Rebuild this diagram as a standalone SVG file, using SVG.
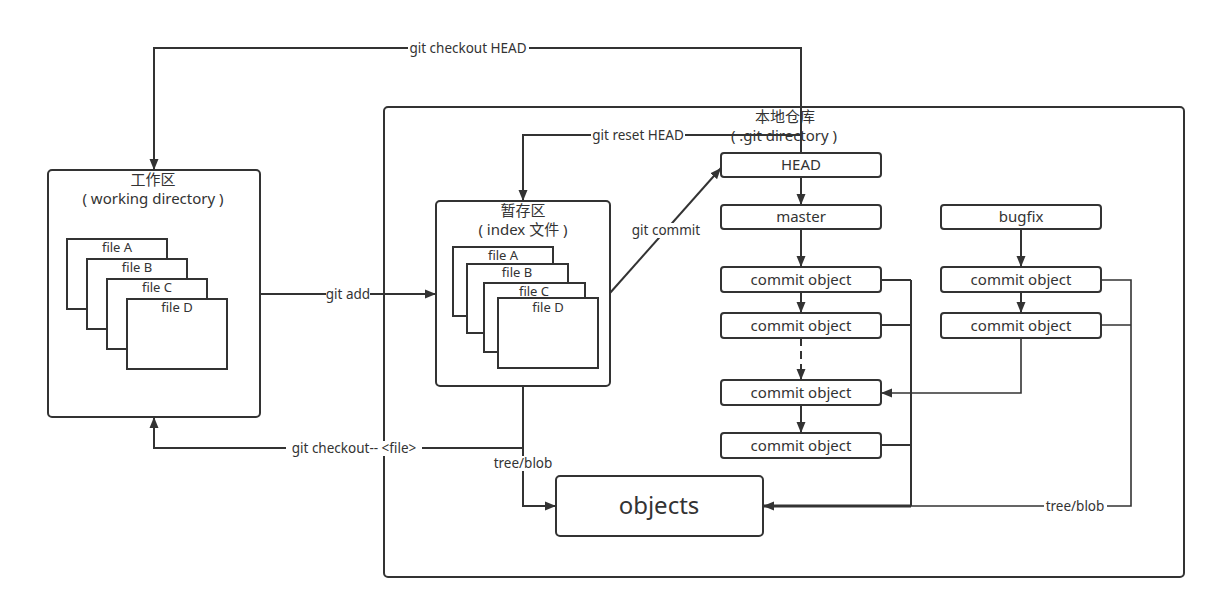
<svg xmlns="http://www.w3.org/2000/svg" width="1216" height="609" viewBox="0 0 1216 609">
<defs>
<style>
.box{fill:#fff;stroke:#333;stroke-width:2}
.file{fill:#fff;stroke:#333;stroke-width:2}
.t{font-family:"Noto Sans","Noto Sans CJK SC",sans-serif;font-size:15px;fill:#333;text-anchor:middle}
.ft{font-family:"Noto Sans","Noto Sans CJK SC",sans-serif;font-size:13px;fill:#333;text-anchor:middle}
.lbl{font-family:"Noto Sans","Noto Sans CJK SC",sans-serif;font-size:13.5px;fill:#333;text-anchor:middle}
.bg{fill:#fff}
.c{fill:none;stroke:#333;stroke-width:2}
.thin{fill:none;stroke:#333;stroke-width:1.6}
</style>
<marker id="ah" viewBox="0 0 11 10" markerUnits="userSpaceOnUse" markerWidth="11" markerHeight="10" refX="11" refY="5" orient="auto">
<path d="M0,0.5 L11,5 L0,9.5 Z" fill="#333"/>
</marker>
</defs>
<rect width="1216" height="609" fill="#fff"/>

<g id="repo">
<rect class="box" x="384" y="107" width="800" height="470" rx="4"/>
<text class="t" x="785" y="122">本地仓库</text>
<text class="t" x="784" y="141">( .git directory )</text>
</g>

<g id="working-dir">
<rect class="box" x="48" y="170" width="212" height="247" rx="4"/>
<text class="t" x="153" y="185">工作区</text>
<text class="t" x="153" y="204">( working directory )</text>
<rect class="file" x="67" y="239" width="100" height="70"/>
<text class="ft" x="117" y="252">file A</text>
<rect class="file" x="87" y="259" width="100" height="70"/>
<text class="ft" x="137" y="272">file B</text>
<rect class="file" x="107" y="279" width="100" height="70"/>
<text class="ft" x="157" y="292">file C</text>
<rect class="file" x="127" y="299" width="100" height="70"/>
<text class="ft" x="177" y="312">file D</text>
</g>

<g id="index">
<rect class="box" x="436" y="201" width="174" height="185" rx="4"/>
<text class="t" x="523" y="216">暂存区</text>
<text class="t" x="523" y="235">( index 文件 )</text>
<rect class="file" x="453" y="247" width="100" height="69"/>
<text class="ft" x="503" y="260">file A</text>
<rect class="file" x="467" y="264" width="101" height="69"/>
<text class="ft" x="517" y="277">file B</text>
<rect class="file" x="484" y="283" width="101" height="69"/>
<text class="ft" x="534" y="296">file C</text>
<rect class="file" x="498" y="298" width="100" height="70"/>
<text class="ft" x="548" y="312">file D</text>
</g>

<g id="head">
<rect class="box" x="721" y="153" width="160" height="24" rx="3"/>
<text class="t" x="801" y="170">HEAD</text>
</g>
<g id="master">
<rect class="box" x="721" y="205" width="160" height="24" rx="3"/>
<text class="t" x="801" y="222">master</text>
</g>
<g id="bugfix">
<rect class="box" x="941" y="205" width="160" height="24" rx="3"/>
<text class="t" x="1021" y="222">bugfix</text>
</g>
<g id="commit1">
<rect class="box" x="721" y="267" width="160" height="25" rx="3"/>
<text class="t" x="801" y="285">commit object</text>
</g>
<g id="commit2">
<rect class="box" x="721" y="313" width="160" height="25" rx="3"/>
<text class="t" x="801" y="331">commit object</text>
</g>
<g id="commit3">
<rect class="box" x="721" y="380" width="160" height="25" rx="3"/>
<text class="t" x="801" y="398">commit object</text>
</g>
<g id="commit4">
<rect class="box" x="721" y="433" width="160" height="25" rx="3"/>
<text class="t" x="801" y="451">commit object</text>
</g>
<g id="bugfix-commit1">
<rect class="box" x="941" y="267" width="160" height="25" rx="3"/>
<text class="t" x="1021" y="285">commit object</text>
</g>
<g id="bugfix-commit2">
<rect class="box" x="941" y="313" width="160" height="25" rx="3"/>
<text class="t" x="1021" y="331">commit object</text>
</g>
<g id="objects">
<rect class="box" x="556" y="476" width="207" height="60" rx="4"/>
<text class="t" x="659" y="514" style="font-size:24px">objects</text>
</g>

<g id="connectors">
<path class="c" d="M801,153 V48 H154 V170" marker-end="url(#ah)"/>
<path class="c" d="M801,135 H523 V201" marker-end="url(#ah)"/>
<path class="c" d="M260,294 H436" marker-end="url(#ah)"/>
<path class="c" d="M610,293 L721,168" marker-end="url(#ah)"/>
<path class="c" d="M801,177 V205" marker-end="url(#ah)"/>
<path class="c" d="M801,229 V267" marker-end="url(#ah)"/>
<path class="c" d="M801,292 V313" marker-end="url(#ah)"/>
<path class="c" d="M801,338 V380" stroke-dasharray="8,5" marker-end="url(#ah)"/>
<path class="c" d="M801,405 V433" marker-end="url(#ah)"/>
<path class="c" d="M1021,229 V267" marker-end="url(#ah)"/>
<path class="c" d="M1021,292 V313" marker-end="url(#ah)"/>
<path class="thin" d="M1021,338 V393 H881" marker-end="url(#ah)"/>
<path class="c" d="M881,280 H911 M881,325 H911 M881,445 H911 M911,280 V506"/>
<path class="c" d="M911,506 H763" style="stroke-width:3" marker-end="url(#ah)"/>
<path class="thin" d="M1101,280 H1131 V506 H911 M1101,325 H1131"/>
<path class="c" d="M523,386 V506 H556" marker-end="url(#ah)"/>
<path class="c" d="M523,448 H154 V417" marker-end="url(#ah)"/>

<rect class="bg" x="408" y="41" width="121" height="15"/>
<text class="lbl" x="468" y="53">git checkout HEAD</text>
<rect class="bg" x="591" y="128" width="94" height="15"/>
<text class="lbl" x="638" y="140">git reset HEAD</text>
<rect class="bg" x="326" y="287" width="44" height="15"/>
<text class="lbl" x="348" y="299">git add</text>
<rect class="bg" x="631" y="223" width="70" height="15"/>
<text class="lbl" x="666" y="235">git commit</text>
<rect class="bg" x="286" y="441" width="136" height="15"/>
<text class="lbl" x="354" y="453">git checkout-- &lt;file&gt;</text>
<rect class="bg" x="492" y="456" width="62" height="15"/>
<text class="lbl" x="523" y="468">tree/blob</text>
<rect class="bg" x="1044" y="499" width="63" height="15"/>
<text class="lbl" x="1075" y="511">tree/blob</text>
</g>
</svg>
